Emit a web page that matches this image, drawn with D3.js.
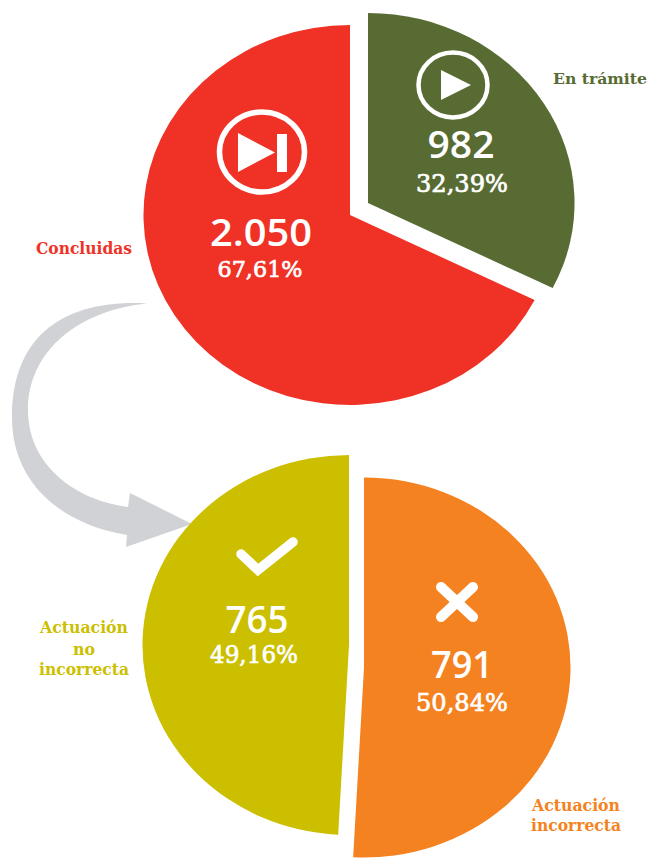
<!DOCTYPE html>
<html><head><meta charset="utf-8">
<script src="https://cdn.jsdelivr.net/npm/d3@7"></script>
<style>html,body{margin:0;background:#fff}svg{display:block}</style></head>
<body><svg id="c" width="650" height="858"></svg>
<script>
// Data
const topCategories = ["Concluidas", "En trámite"];
const topValues = [2050, 982];
const topValueLabels = ["2.050", "982"];
const topPercentLabels = ["67,61%", "32,39%"];
const bottomCategories = ["Actuación incorrecta", "Actuación no incorrecta"];
const bottomValues = [791, 765];
const bottomValueLabels = ["791", "765"];
const bottomPercentLabels = ["50,84%", "49,16%"];

// Layout
const radiusY = 190, stretchX = 1.087;
const RED = "#f03226", GREEN = "#586b32", YELLOW = "#cbbf00", ORANGE = "#f58220", GREY = "#d0d2d5";
const svg = d3.select("#c");
const arc = d3.arc().innerRadius(0).outerRadius(radiusY);
const NUM = "'Open Sans','Noto Sans',sans-serif";
const PCT = "'DejaVu Serif','Liberation Serif',serif";

function slices(values, start) {
  return d3.pie().sort(null).startAngle(start).endAngle(start + 2 * Math.PI)(values);
}
function drawSlice(d, cx, cy, fill) {
  svg.append("path").attr("d", arc(d)).attr("fill", fill)
    .attr("transform", `translate(${cx},${cy}) scale(${stretchX},1)`);
}
function fitted(t, x, y, w, size, fill, weight, font, halo) {
  const s = svg.append("text").text(t).attr("x", x).attr("y", y)
    .attr("text-anchor", "middle").attr("font-family", font)
    .attr("font-size", size).attr("font-weight", weight).attr("fill", fill)
    .attr("textLength", w).attr("lengthAdjust", "spacingAndGlyphs");
  if (halo) s.attr("stroke", fill).attr("stroke-width", halo);
  return s;
}

// Arrow under the lower pie
svg.append("path").attr("fill", GREY).attr("d",
  "M147,303.5 C66,299 12,334 12,418 C12,478 55,523 127,535 L126,547 L192,524 L130,493 L128,507 " +
  "C75,500 28,465 28,410 C28,350 80,310 147,303.5 Z");

// Upper pie: clockwise from 12 o'clock, En trámite first and pulled out
const topArcs = slices([topValues[1], topValues[0]], 0);
drawSlice(topArcs[1], 350, 215, RED);
drawSlice(topArcs[0], 368, 203, GREEN);

// Lower pie
const bottomArcs = slices(bottomValues, 0);
drawSlice(bottomArcs[1], 349, 645, YELLOW);
drawSlice(bottomArcs[0], 364, 667.5, ORANGE);

// Icons
svg.append("ellipse").attr("cx", 262).attr("cy", 152).attr("rx", 42.5).attr("ry", 40)
  .attr("fill", "none").attr("stroke", "#fff").attr("stroke-width", 5.5);
svg.append("path").attr("fill", "#fff").attr("d", "M238,133 L275,152.5 L238,172 Z M277,134 H287 V172 H277 Z");
svg.append("ellipse").attr("cx", 453).attr("cy", 85).attr("rx", 34.5).attr("ry", 32.5)
  .attr("fill", "none").attr("stroke", "#fff").attr("stroke-width", 4.5);
svg.append("path").attr("fill", "#fff").attr("d", "M441,70 L471,85 L441,100 Z");
svg.append("path").attr("fill", "none").attr("stroke", "#fff").attr("stroke-width", 9.5)
  .attr("stroke-linecap", "round").attr("stroke-linejoin", "miter")
  .attr("d", "M241,554 L258,570 L293,542");
svg.append("path").attr("fill", "none").attr("stroke", "#fff").attr("stroke-width", 10)
  .attr("stroke-linecap", "round").attr("d", "M441,587 L473,617 M473,587 L441,617");

// Values
const BIG = 38;
fitted(topValueLabels[0], 261, 246, 102, BIG, "#fff", 600, NUM);
fitted(topPercentLabels[0], 260, 277, 85, 23, "#fff", 400, PCT, 0.7);
fitted(topValueLabels[1], 461, 158, 67, BIG, "#fff", 600, NUM);
fitted(topPercentLabels[1], 462, 192, 92, 24, "#fff", 400, PCT, 0.7);
fitted(bottomValueLabels[1], 257, 633, 63, BIG, "#fff", 600, NUM);
fitted(bottomPercentLabels[1], 254, 663, 88, 24, "#fff", 400, PCT, 0.7);
fitted(bottomValueLabels[0], 462, 678, 62, BIG, "#fff", 600, NUM);
fitted(bottomPercentLabels[0], 462, 711, 92, 24, "#fff", 400, PCT, 0.7);

// Category labels
const LAB = 16, LF = "'DejaVu Serif','Liberation Serif',serif";
fitted(topCategories[1], 600, 84, 94, 15.5, GREEN, 700, LF);
fitted(topCategories[0], 84, 254, 96, LAB, RED, 700, LF);
const noLines = ["Actuación", "no", "incorrecta"];
fitted(noLines[0], 84, 633, 88, LAB, YELLOW, 700, LF);
fitted(noLines[1], 84, 655, 22, LAB, YELLOW, 700, LF);
fitted(noLines[2], 84, 675, 90, LAB, YELLOW, 700, LF);
const inLines = ["Actuación", "incorrecta"];
fitted(inLines[0], 576, 811, 88, LAB, ORANGE, 700, LF);
fitted(inLines[1], 576, 831, 90, LAB, ORANGE, 700, LF);
</script></body></html>
